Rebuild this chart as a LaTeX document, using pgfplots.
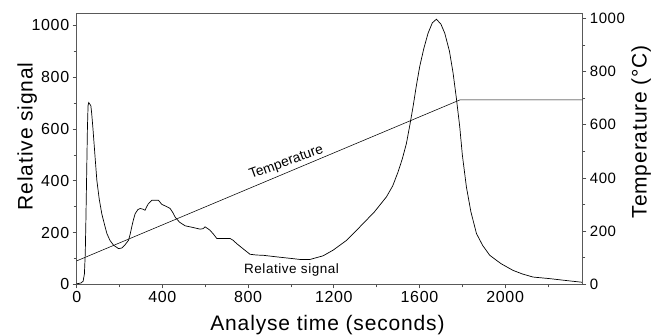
\documentclass[border=0pt]{standalone}
\usepackage{fontspec}
\setmainfont[LetterSpace=4]{Liberation Sans}
\newfontfamily\plainfont{Liberation Sans}
\usepackage{pgfplots}
\pgfplotsset{compat=1.18}
\begin{document}
\begin{tikzpicture}
\pgfplotsset{
  common/.style={
    scale only axis, width=505.6bp, height=271.3bp,
    xmin=0, xmax=2360,
    tick align=outside,
    major tick length=4bp, minor tick length=3bp,
    /pgf/number format/assume math mode=true,
    /pgf/number format/1000 sep={},
    tick style={black!70, line width=0.7bp},
  }
}
\begin{axis}[common,
  ymin=0, ymax=1048,
  xtick={0,400,...,2000}, ytick={0,200,...,1000},
  minor xtick={200,600,...,2200}, minor ytick={100,300,...,900},
  tick pos=left,
  axis line style={black!65, line width=0.8bp},
  xticklabel style={font=\fontsize{16bp}{19bp}\selectfont},
  yticklabel style={font=\fontsize{16bp}{19bp}\selectfont},
]
\addplot[black, line width=0.7bp] coordinates {
(0,2)(20,5)(30,12)(36,40)(40,120)(43,250)(46,400)(50,600)(53,690)(56,702)(62,695)(66,690)(70,660)(76,600)(85,500)(94,402)(105,330)(117,273)(130,230)(141,196)(155,170)(172,151)(195,138)(210,140)(225,152)(242,170)(250,195)(257,222)(265,250)(273,273)(285,288)(296,293)(310,290)(319,286)(327,300)(335,312)(351,325)(381,325)(397,309)(420,300)(436,293)(448,278)(459,260)(480,240)(506,226)(540,220)(576,213)(590,215)(599,222)(610,216)(622,209)(640,192)(654,177)(680,177)(716,177)(730,170)(747,157)(780,135)(809,116)(840,113)(871,112)(933,106)(1011,99)(1042,96)(1089,96)(1150,110)(1197,132)(1260,170)(1322,222)(1390,280)(1446,338)(1475,380)(1500,434)(1520,485)(1539,544)(1555,615)(1570,686)(1585,765)(1601,841)(1620,910)(1640,970)(1660,1010)(1679,1024)(1700,1005)(1718,970)(1740,900)(1757,815)(1772,720)(1788,608)(1800,500)(1819,376)(1840,280)(1866,196)(1895,150)(1928,112)(1980,80)(2036,54)(2080,40)(2130,28)(2207,22)(2280,15)(2358,8)
};
\node[font=\plainfont\fontsize{13.8bp}{16bp}\selectfont, rotate=20, inner sep=0pt] at (axis cs:979,470) {Temperature};
\node[font=\fontsize{13.5bp}{16bp}\selectfont, anchor=base, inner sep=0pt] at (axis cs:1003,41) {Relative signal};
\end{axis}
\begin{axis}[common,
  ymin=0, ymax=1020,
  axis x line=none, axis y line*=right,
  ytick={0,200,...,1000}, minor ytick={100,300,...,900},
  axis line style={black!65, line width=0.8bp},
  yticklabel style={font=\fontsize{15bp}{18bp}\selectfont},
]
\addplot[black, line width=0.55bp] coordinates {(0,88)(1788,693)(2360,693)};
\end{axis}
\node[rotate=90, anchor=base, inner sep=0pt, font=\fontsize{21bp}{25bp}\selectfont] at (-44bp,148bp) {Relative signal};
\node[rotate=90, anchor=base, inner sep=0pt, font=\fontsize{21bp}{25bp}\selectfont] at (570bp,152.6bp) {Temperature (°C)};
\node[anchor=base, inner sep=0pt, font=\fontsize{21bp}{25bp}\selectfont] at (250.8bp,-45.7bp) {Analyse time (seconds)};
\pgfresetboundingbox
\useasboundingbox (-76.7bp,-50.7bp) rectangle (575.3bp,284.3bp);
\end{tikzpicture}
\end{document}
